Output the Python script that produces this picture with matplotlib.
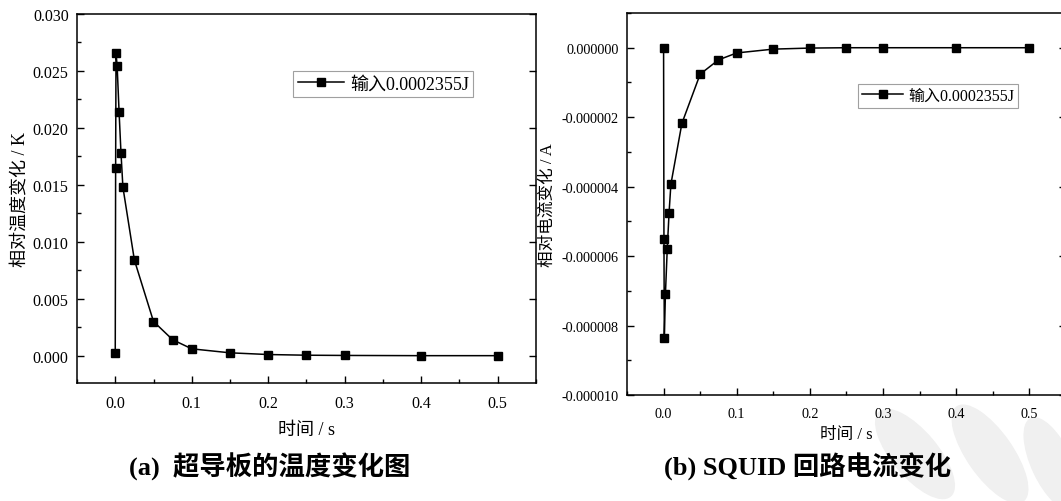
import numpy as np
import matplotlib
matplotlib.use('Agg')
import matplotlib.pyplot as plt
from matplotlib.ticker import MultipleLocator, FormatStrFormatter
from matplotlib.patches import Ellipse
from matplotlib.transforms import IdentityTransform

plt.rcParams['font.family'] = ['Liberation Serif', 'Noto Sans CJK SC', 'DejaVu Sans']
plt.rcParams['axes.unicode_minus'] = False

# time points (s)
t = [0.0, 0.0005, 0.001, 0.0025, 0.005, 0.0075, 0.01, 0.025, 0.05, 0.075,
     0.1, 0.15, 0.2, 0.25, 0.3, 0.4, 0.5]
# relative temperature change (K)
temp = [0.0002, 0.0165, 0.0266, 0.0254, 0.0214, 0.0178, 0.0148, 0.0084, 0.0030,
        0.0014, 0.0006, 0.00025, 0.0001, 0.00004, 0.00002, 0.0, 0.0]
# relative current change (A)
cur = [0.0, -5.5e-6, -8.35e-6, -7.1e-6, -5.8e-6, -4.75e-6, -3.93e-6, -2.18e-6,
       -0.76e-6, -0.35e-6, -0.15e-6, -0.04e-6, -0.01e-6, 0.0, 0.0, 0.0, 0.0]
legend_label = '输入0.0002355J'
captions = ['(a)  超导板的温度变化图', '(b) SQUID 回路电流变化']

W, H = 1061, 502
fig = plt.figure(figsize=(W / 100, H / 100), dpi=100)

def px_axes(x0, x1, y0, y1):
    return fig.add_axes([x0 / W, (H - y1) / H, (x1 - x0) / W, (y1 - y0) / H])

ax1 = px_axes(77, 536, 15, 384)
ax2 = px_axes(627, 1066, 14, 396)

fam = ['Liberation Serif', 'Noto Sans CJK SC']

# per panel: axes, data, ylabel, tick format, tick size, label size, legend size, legend anchor
panels = [
    (ax1, temp, '相对温度变化 / K', '%.3f', 11.5, 13, 13, (0.4706, 0.8455), 7, 3),
    (ax2, cur, '相对电流变化 / A', '%.6f', 10.2, 12, 11.5, (0.526, 0.814), 4, 4),
]

for ax, y, ylab, fmt, tsize, lsize, gsize, anchor, xpad, ypad in panels:
    ax.plot(t, y, color='k', lw=1.1, marker='s', ms=6, label=legend_label)
    ax.set_xlim(-0.05, 0.55)
    ax.xaxis.set_major_locator(MultipleLocator(0.1))
    ax.xaxis.set_minor_locator(MultipleLocator(0.05))
    ax.xaxis.set_major_formatter(FormatStrFormatter('%.1f'))
    ax.yaxis.set_major_formatter(FormatStrFormatter(fmt))
    ax.tick_params(which='both', direction='in', labelsize=tsize, top=False)
    ax.tick_params(which='major', length=5, width=1.0, right=True)
    ax.tick_params(which='minor', length=3, width=1.0, right=False)
    ax.tick_params(axis='x', which='major', pad=9)
    ax.tick_params(axis='y', which='major', pad=6)
    for s in ax.spines.values():
        s.set_linewidth(1.1)
    ax.set_xlabel('时间 / s', labelpad=xpad, family=fam, fontsize=lsize)
    ax.set_ylabel(ylab, labelpad=ypad, family=fam, fontsize=lsize)
    leg = ax.legend(loc='upper left', bbox_to_anchor=anchor, borderaxespad=0,
                    fancybox=False, handlelength=2.6, handletextpad=0.3,
                    borderpad=0.25, prop=dict(family=fam, size=gsize))
    leg.get_frame().set_edgecolor('#888888')
    leg.get_frame().set_linewidth(0.8)

ax1.set_ylim(-0.0024, 0.030)
ax1.yaxis.set_major_locator(MultipleLocator(0.005))
ax1.yaxis.set_minor_locator(MultipleLocator(0.0025))

ax2.set_ylim(-1.0e-5, 1.0e-6)
ax2.yaxis.set_major_locator(MultipleLocator(2e-6))
ax2.yaxis.set_minor_locator(MultipleLocator(1e-6))

cap_font = dict(family=fam, fontsize=19, fontweight='bold')
fig.text(270 / W, 1 - 467 / H, captions[0], ha='center', va='center', **cap_font)
fig.text(808 / W, 1 - 467 / H, captions[1], ha='center', va='center', **cap_font)

# faint grey decoration in lower right corner (pixel coords, origin bottom-left)
for (cx, cy, w, h, ang) in [(915, 455, 45, 110, 40), (990, 455, 45, 115, 35), (1052, 465, 40, 100, 25)]:
    fig.patches.append(Ellipse((cx, H - cy), w, h, angle=ang,
                               transform=IdentityTransform(), color='#f0f0f0', zorder=-1))

fig.savefig('out.png', dpi=100)
